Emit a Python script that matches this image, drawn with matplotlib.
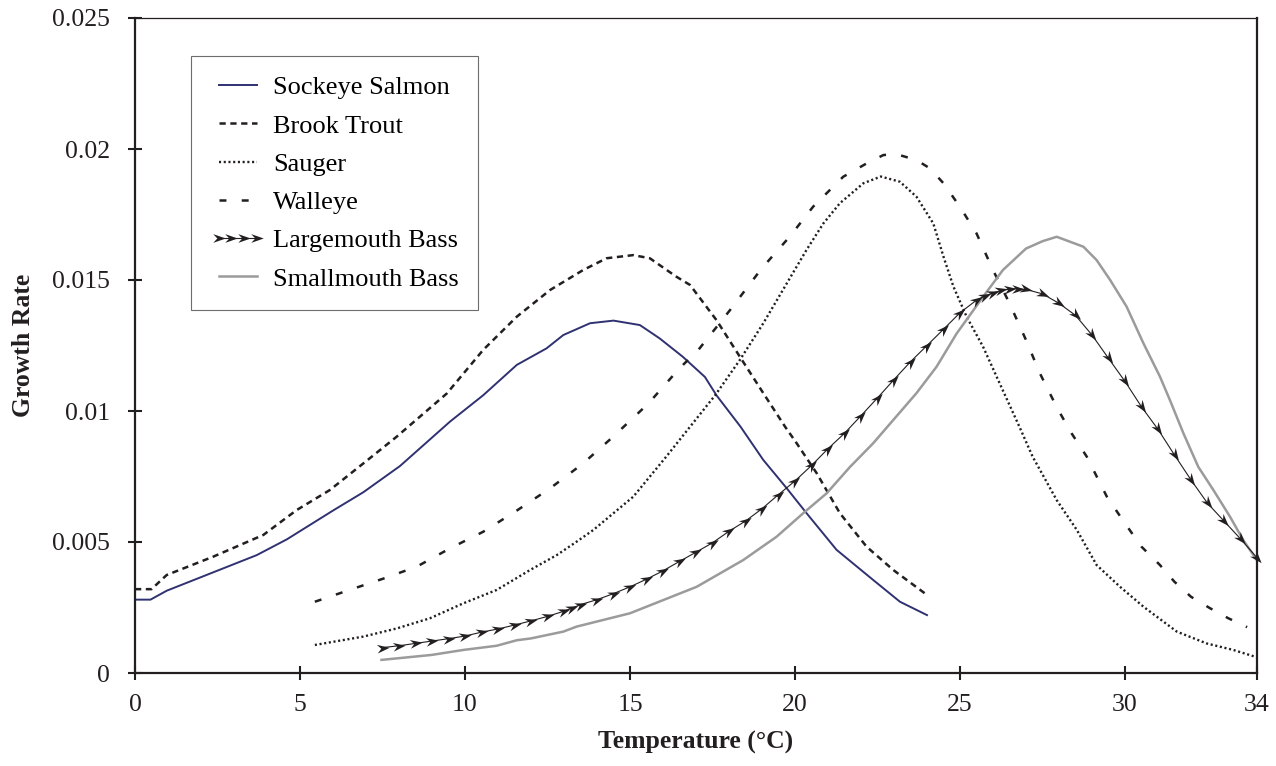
import numpy as np
import matplotlib
matplotlib.use('Agg')
import matplotlib.pyplot as plt
from matplotlib.path import Path
from matplotlib.markers import MarkerStyle
from matplotlib.transforms import Affine2D
from matplotlib.lines import Line2D
from matplotlib.ticker import FuncFormatter

# growth rate vs temperature
salmon_t = [0, 0.47, 0.96, 3.69, 4.6, 6.0, 6.92, 8.03, 9.55, 9.95, 10.55, 11.57,
            12.47, 12.98, 13.79, 14.5, 15.3, 15.9, 16.6, 17.27, 17.62, 18.35,
            19.04, 19.75, 20.35, 21.26, 22.37, 23.18, 24.0]
salmon_g = [0.0028, 0.0028, 0.00314, 0.0045, 0.0051, 0.0062, 0.0069, 0.0079,
            0.0096, 0.0100, 0.0106, 0.01176, 0.01239, 0.0129, 0.01335, 0.01345,
            0.01328, 0.01277, 0.01207, 0.0113, 0.0106, 0.0094, 0.00813, 0.00705,
            0.0061, 0.0047, 0.00355, 0.00272, 0.00221]

trout_t = [0, 0.5, 0.96, 2.37, 3.89, 4.9, 5.9, 6.92, 7.93, 9.45, 10.55, 11.57,
           12.58, 13.58, 14.29, 15.1, 15.6, 16.4, 16.82, 17.62, 18.33, 19.04,
           19.7, 20.05, 20.66, 21.36, 22.17, 22.98, 24.0]
trout_g = [0.0032, 0.0032, 0.00374, 0.00444, 0.00527, 0.00622, 0.00698, 0.008,
           0.00902, 0.01067, 0.01233, 0.0136, 0.01462, 0.01538, 0.01583, 0.01595,
           0.01583, 0.01513, 0.01481, 0.01347, 0.01207, 0.01068, 0.0094, 0.00877,
           0.00762, 0.0061, 0.00482, 0.00393, 0.00298]

sauger_t = [5.45, 6.92, 7.93, 8.94, 9.95, 10.96, 11.97, 12.78, 13.38, 13.89,
            15.1, 16.1, 16.82, 17.58, 18.33, 19.04, 19.75, 20.35, 20.86, 21.36,
            22.07, 22.6, 23.18, 23.68, 24.19, 24.5, 24.8, 25.2, 25.7, 26.2, 26.8,
            27.2, 27.93, 28.54, 29.14, 29.85, 30.56, 31.57, 32.47, 33.28, 34.0]
sauger_g = [0.00107, 0.00139, 0.0017, 0.00209, 0.00266, 0.00317, 0.00393, 0.0045,
            0.00501, 0.00546, 0.00673, 0.00826, 0.0094, 0.0106, 0.01195, 0.01335,
            0.01487, 0.01615, 0.01716, 0.01793, 0.01869, 0.01895, 0.01875,
            0.01818, 0.01716, 0.01589, 0.01475, 0.0136, 0.01245, 0.01106, 0.0094,
            0.00826, 0.0066, 0.00546, 0.00412, 0.00329, 0.00253, 0.00158, 0.00113,
            0.00088, 0.0006]

walleye_t = [5.45, 6.5, 7.52, 8.54, 9.55, 10.55, 11.57, 12.58, 13.58, 14.49,
             15.56, 16.5, 17.07, 18.03, 18.99, 19.85, 20.55, 21.46, 22.17, 22.68,
             23.08, 23.68, 24.09, 24.5, 25.0, 25.5, 26.0, 26.5, 27.0, 27.42, 27.95,
             28.38, 28.84, 29.45, 30.0, 30.5, 31.06, 31.5, 32.0, 32.58, 33.13, 33.7]
walleye_g = [0.00272, 0.00317, 0.0036, 0.00406, 0.00476, 0.00539, 0.0062, 0.00705,
             0.008, 0.00902, 0.01029, 0.01163, 0.01233, 0.01385, 0.01544, 0.01667,
             0.0178, 0.01894, 0.01945, 0.01977, 0.0198, 0.01958, 0.01926, 0.01869,
             0.01779, 0.01678, 0.01538, 0.01411, 0.01271, 0.01144, 0.0101, 0.00915,
             0.00826, 0.00673, 0.00571, 0.00482, 0.00412, 0.00348, 0.00291,
             0.00247, 0.00209, 0.00175]

lmb_t = [7.5, 8.0, 8.5, 9.0, 9.5, 10.0, 10.5, 11.0, 11.5, 12.0, 12.5, 13.0,
         13.25, 13.5, 14.0, 14.5, 15.0, 15.5, 16.0, 16.5, 17.0, 17.5, 18.0, 18.5,
         19.0, 19.5, 20.0, 20.5, 21.0, 21.5, 22.0, 22.5, 23.0, 23.5, 24.0, 24.5,
         25.0, 25.5, 25.75, 26.0, 26.25, 26.5, 26.75, 27.0, 27.5, 28.0, 28.5,
         29.0, 29.5, 30.0, 30.5, 31.0, 31.5, 32.0, 32.5, 33.0, 33.5, 34.0]
lmb_g = [0.00097, 0.00104, 0.00113, 0.00122, 0.00131, 0.00141, 0.00156, 0.00168,
         0.00183, 0.00199, 0.00216, 0.00236, 0.00248, 0.00261, 0.0028, 0.00303,
         0.00329, 0.00358, 0.0039, 0.00426, 0.00461, 0.00497, 0.00541, 0.0058,
         0.00627, 0.00681, 0.00733, 0.00792, 0.00856, 0.00915, 0.00982, 0.0105,
         0.0112, 0.01188, 0.0125, 0.01312, 0.01375, 0.01423, 0.01438, 0.01451,
         0.0146, 0.01465, 0.01467, 0.01464, 0.01447, 0.01411, 0.01365, 0.0129,
         0.01201, 0.01113, 0.01016, 0.0093, 0.00832, 0.00737, 0.00648, 0.0058,
         0.00512, 0.0044]

smb_t = [7.47, 8.99, 9.95, 10.96, 11.57, 12.0, 12.98, 13.38, 15.0, 17.02, 18.43,
         19.44, 20.25, 20.96, 21.67, 22.37, 22.98, 23.68, 24.29, 24.9, 25.7,
         26.3, 27.0, 27.5, 27.93, 28.74, 29.14, 29.55, 30.05, 30.56, 31.06,
         31.36, 31.77, 32.22, 32.68, 33.18, 33.58, 34.0]
smb_g = [0.0005, 0.00069, 0.00088, 0.00104, 0.00125, 0.00132, 0.00158, 0.00177,
         0.00228, 0.00329, 0.00431, 0.0052, 0.0061, 0.00686, 0.00787, 0.00877,
         0.00966, 0.01068, 0.01169, 0.01296, 0.01436, 0.01538, 0.0162, 0.01648,
         0.01665, 0.01627, 0.01576, 0.015, 0.01398, 0.01258, 0.01131, 0.01042,
         0.00915, 0.00787, 0.00698, 0.00597, 0.00508, 0.0043]

x_ticks = [0, 5, 10, 15, 20, 25, 30, 34]
y_ticks = [0, 0.005, 0.01, 0.015, 0.02, 0.025]

INK = '#231f20'
NAVY = '#2f3170'
GREY = '#9b9b9b'

plt.rcParams['font.family'] = ['Liberation Serif', 'DejaVu Serif']
plt.rcParams['lines.scale_dashes'] = False

fig = plt.figure(figsize=(12.76, 7.66), dpi=100)
ax = fig.add_axes([135 / 1276, 1 - 673 / 766, 1122 / 1276, 655 / 766])
ax.set_xlim(0, 34)
ax.set_ylim(0, 0.025)

TROUT_LS = (0, (4.5, 3.3))
SAUGER_LS = (0, (1.5, 1.9))
WALLEYE_LS = (0, (5, 11))

ax.plot(salmon_t, salmon_g, color=NAVY, lw=1.4)
ax.plot(trout_t, trout_g, color=INK, lw=1.8, ls=TROUT_LS)
ax.plot(sauger_t, sauger_g, color=INK, lw=1.7, ls=SAUGER_LS)
ax.plot(walleye_t, walleye_g, color=INK, lw=1.8, ls=WALLEYE_LS)
ax.plot(smb_t, smb_g, color=GREY, lw=1.8)
ax.plot(lmb_t, lmb_g, color=INK, lw=0.8)

# arrow-head markers, turned along the line
arrow = Path([(1, 0), (-1, 0.7), (-0.35, 0), (-1, -0.7), (1, 0)],
             [Path.MOVETO, Path.LINETO, Path.LINETO, Path.LINETO, Path.CLOSEPOLY])
pts = ax.transData.transform(np.column_stack([lmb_t, lmb_g]))
for i in range(len(pts)):
    a = pts[max(i - 1, 0)]
    b = pts[min(i + 1, len(pts) - 1)]
    ang = np.degrees(np.arctan2(b[1] - a[1], b[0] - a[0]))
    m = MarkerStyle(arrow, transform=Affine2D().rotate_deg(ang))
    ax.plot(lmb_t[i], lmb_g[i], marker=m, ms=9, color=INK, mew=0,
            clip_on=False)

handles = [
    Line2D([], [], color=NAVY, lw=1.4),
    Line2D([], [], color=INK, lw=1.8, ls=TROUT_LS),
    Line2D([], [], color=INK, lw=1.7, ls=SAUGER_LS),
    Line2D([], [], color=INK, lw=1.8, ls=WALLEYE_LS),
    Line2D([], [], color=INK, lw=0.8, marker=arrow, ms=9, mew=0),
    Line2D([], [], color=GREY, lw=1.8),
]
labels = ['Sockeye Salmon', 'Brook Trout', 'Sauger', 'Walleye',
          'Largemouth Bass', 'Smallmouth Bass']
leg = ax.legend(handles, labels, loc='upper left',
                bbox_to_anchor=(56 / 1122, (673 - 56) / 655), borderaxespad=0,
                fontsize=19, fancybox=False, framealpha=1, edgecolor='#6d6d6d',
                borderpad=0.75, labelspacing=0.56, handlelength=2.05,
                handletextpad=0.3, numpoints=4)
leg.get_frame().set_linewidth(0.8)

ax.set_xticks(x_ticks)
ax.set_yticks(y_ticks)
ax.yaxis.set_major_formatter(FuncFormatter(lambda v, p: f'{v:g}'))
ax.tick_params(direction='inout', length=10, width=1.5, colors=INK,
               labelsize=18.5, labelcolor=INK)
ax.tick_params(axis='y', pad=13)
ax.tick_params(axis='x', pad=10)

for side in ['left', 'bottom', 'right']:
    ax.spines[side].set_linewidth(1.6)
    ax.spines[side].set_color(INK)
ax.spines['top'].set_linewidth(0.9)
ax.spines['top'].set_color(INK)

ax.set_xlabel('Temperature (°C)', fontsize=18.5, fontweight='bold',
              color=INK, labelpad=11)
ax.set_ylabel('Growth Rate', fontsize=18.5, fontweight='bold', color=INK)
ax.yaxis.set_label_coords(-100 / 1122, 0.5)

fig.savefig('out.png', dpi=100)
